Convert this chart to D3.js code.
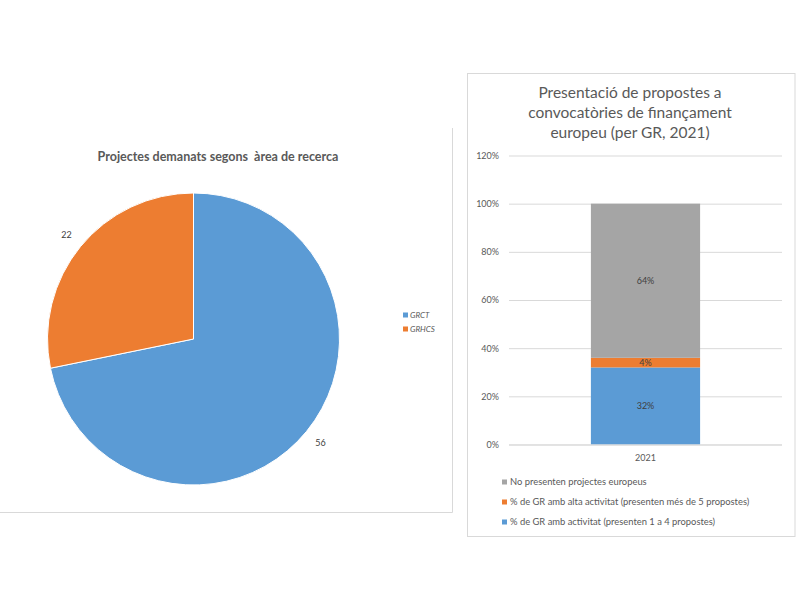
<!DOCTYPE html>
<html><head><meta charset="utf-8">
<script src="https://cdn.jsdelivr.net/npm/d3@7"></script>
<style>
html,body{margin:0;padding:0;background:#fff;}
svg{display:block;font-family:Lato,"Open Sans",sans-serif;}
text{white-space:pre;}
</style></head>
<body>
<svg id="c" width="800" height="600"></svg>
<script>
// Pie chart data
const pieTitle = "Projectes demanats segons  àrea de recerca";
const pieCategories = ["GRCT", "GRHCS"];
const pieValues = [56, 22];
const pieColors = ["#5B9BD5", "#ED7D31"];

// Stacked bar data
const barTitle = ["Presentació de propostes a", "convocatòries de finançament", "europeu (per GR, 2021)"];
const barCategories = ["2021"];
const barSeries = [
  "% de GR amb activitat (presenten 1 a 4 propostes)",
  "% de GR amb alta activitat (presenten més de 5 propostes)",
  "No presenten projectes europeus"
];
const barValues = [[0.32], [0.04], [0.64]];
const barColors = ["#5B9BD5", "#ED7D31", "#A5A5A5"];
const yTicks = [0, 0.2, 0.4, 0.6, 0.8, 1.0, 1.2];

const svg = d3.select("#c");
const textCol = "#595959";

// ---------- Left panel ----------
const left = svg.append("g");
left.append("path").attr("d", "M-1,512.5H452.5V128").attr("fill", "none").attr("stroke", "#D9D9D9").attr("stroke-width", 1);
left.append("text").attr("x", 218).attr("y", 161).attr("text-anchor", "middle")
  .attr("font-size", 12.5).attr("font-weight", "bold").attr("fill", textCol).text(pieTitle);

const cx = 193.5, cy = 339, r = 146;
const pie = d3.pie().sort(null).value(d => d)(pieValues);
const arc = d3.arc().innerRadius(0).outerRadius(r);
const pg = left.append("g").attr("transform", `translate(${cx},${cy})`);
pg.selectAll("path").data(pie).join("path").attr("d", arc)
  .attr("fill", (d, i) => pieColors[i]).attr("stroke", "#fff").attr("stroke-width", 1);
const labelArc = d3.arc().innerRadius(r + 18).outerRadius(r + 18);
pg.selectAll("text").data(pie).join("text")
  .attr("transform", d => {
    const c = labelArc.centroid(d);
    return `translate(${c[0]},${c[1]})`;
  })
  .attr("text-anchor", "middle").attr("dy", "0.35em")
  .attr("font-size", 9).attr("fill", "#404040").text(d => d.data);

const pl = left.append("g").attr("transform", "translate(403,315)");
pieCategories.forEach((c, i) => {
  const g = pl.append("g").attr("transform", `translate(0,${i * 14})`);
  g.append("rect").attr("x", 0).attr("y", -2.5).attr("width", 5).attr("height", 5).attr("fill", pieColors[i]);
  g.append("text").attr("x", 7).attr("y", 0).attr("dy", "0.35em").attr("font-size", 8)
    .attr("font-style", "italic").attr("fill", textCol).text(c);
});

// ---------- Right panel ----------
const right = svg.append("g");
right.append("rect").attr("x", 467.5).attr("y", 73.5).attr("width", 327.5).attr("height", 463)
  .attr("fill", "#fff").attr("stroke", "#D9D9D9");
barTitle.forEach((t, i) => {
  right.append("text").attr("x", 630).attr("y", 98 + i * 20).attr("text-anchor", "middle")
    .attr("font-size", 15.5).attr("font-weight", 400).attr("fill", textCol).text(t);
});

const y = d3.scaleLinear().domain([0, 1.2]).range([444.5, 155.5]);
const x = d3.scaleBand().domain(barCategories).range([509, 782]).paddingInner(0.6).paddingOuter(0.3);

const yAxis = d3.axisLeft(y).tickValues(yTicks).tickFormat(d3.format(".0%")).tickSize(-(782 - 509)).tickPadding(10);
const ya = right.append("g").attr("transform", "translate(509,0)").call(yAxis);
ya.select(".domain").remove();
ya.selectAll(".tick line").attr("stroke", "#D9D9D9");
ya.selectAll(".tick text").attr("font-size", 9).attr("fill", textCol).attr("font-family", "Lato,sans-serif");

const stack = d3.stack().keys(d3.range(barSeries.length))
  .value((d, k) => barValues[k][d])(barCategories.map((c, i) => i));

stack.forEach((s, k) => {
  s.forEach((d, i) => {
    const top = y(d[1]), bot = y(d[0]);
    right.append("rect").attr("x", x(barCategories[i])).attr("width", x.bandwidth())
      .attr("y", top).attr("height", bot - top).attr("fill", barColors[k]);
    right.append("text").attr("x", x(barCategories[i]) + x.bandwidth() / 2)
      .attr("y", (top + bot) / 2).attr("dy", "0.35em").attr("text-anchor", "middle")
      .attr("font-size", 9).attr("fill", "#404040").text(d3.format(".0%")(barValues[k][i]));
  });
});

const xAxis = d3.axisBottom(x).tickSize(0).tickPadding(10);
const xa = right.append("g").attr("transform", "translate(0,444.5)").call(xAxis);
xa.select(".domain").attr("stroke", "#D9D9D9").attr("d", "M509,0.5H782");
xa.selectAll(".tick text").attr("font-size", 9).attr("fill", textCol).attr("font-family", "Lato,sans-serif");

const lg = right.append("g").attr("transform", "translate(502,0)");
const legendOrder = [2, 1, 0];
legendOrder.forEach((k, j) => {
  const yy = 482 + j * 20;
  lg.append("rect").attr("x", 0).attr("y", yy - 2.5).attr("width", 5).attr("height", 5).attr("fill", barColors[k]);
  lg.append("text").attr("x", 8).attr("y", yy).attr("dy", "0.35em").attr("font-size", 9.4)
    .attr("fill", textCol).text(barSeries[k]);
});
</script>
</body></html>
